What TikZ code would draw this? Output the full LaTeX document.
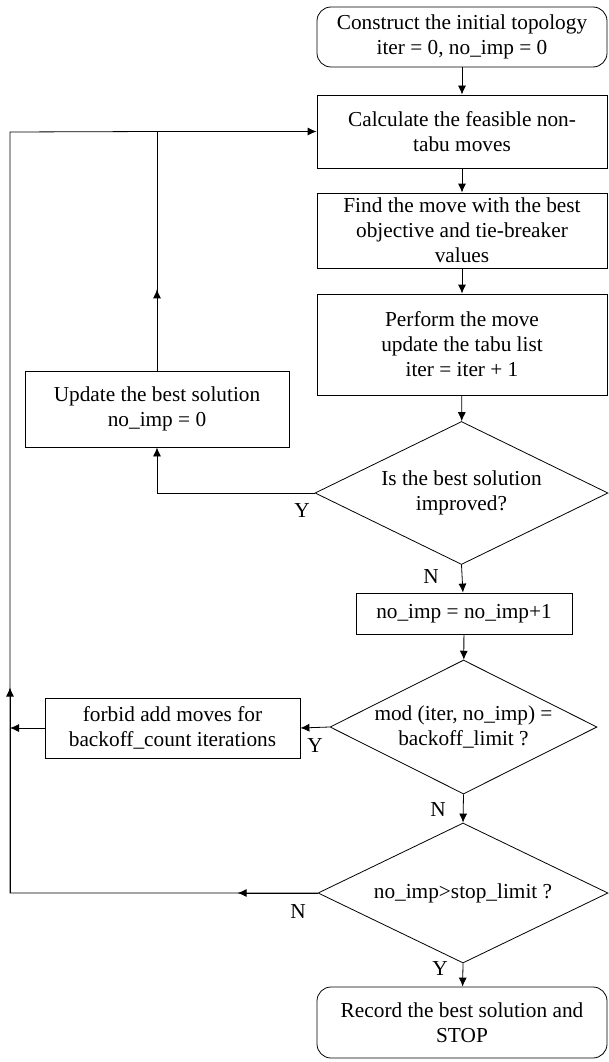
\documentclass[tikz,border=0pt]{standalone}
\usepackage{fontspec}
\setmainfont{Liberation Serif}
\usepackage{tikz}
\usetikzlibrary{shapes.geometric,arrows.meta,positioning,calc}

\begin{document}
\begin{tikzpicture}[x=1pt,y=-1pt,line width=0.8pt,
    every node/.style={font=\fontsize{21.3}{25}\selectfont},
    procbox/.style={draw,rectangle,align=center,inner sep=0pt,minimum width=290pt},
    termbox/.style={procbox,rounded corners=14pt},
    decbox/.style={draw,diamond,align=center,inner sep=0pt,aspect=2},
    flow/.style={-{Latex[length=9pt,width=8pt]}},
    lbl/.style={inner sep=0pt}]
    \useasboundingbox (0,0) rectangle (608,1062);

    % main column
    \node[termbox,minimum height=60pt] (init) at (462,37)
      {Construct the initial topology\\iter = 0, no\_imp = 0};
    \node[procbox,minimum height=73pt] (calc) at (462,131.5)
      {Calculate the feasible non-\\tabu moves};
    \node[procbox,minimum height=75pt] (find) at (462,230.5)
      {Find the move with the best\\objective and tie-breaker\\values};
    \node[procbox,minimum height=101pt] (perf) at (462,344.5)
      {Perform the move\\update the tabu list\\iter = iter + 1};
    \node[decbox,minimum width=293pt,minimum height=143pt] (improved) at (461.5,493)
      {Is the best solution\\improved?};
    \node[procbox,minimum width=216pt,minimum height=41pt] (noimp) at (464,613.5)
      {no\_imp = no\_imp+1};
    \node[decbox,minimum width=267pt,minimum height=134pt] (backoff) at (463.5,727)
      {mod (iter, no\_imp) =\\backoff\_limit ?};
    \node[decbox,minimum width=290pt,minimum height=140pt] (giveup) at (463,893)
      {no\_imp>stop\_limit ?};
    \node[termbox,minimum height=71pt] (record) at (462,1022.5)
      {Record the best solution and\\STOP};

    % side boxes
    \node[procbox,minimum width=264pt,minimum height=76pt] (update) at (157,409)
      {Update the best solution\\no\_imp = 0};
    \node[procbox,minimum width=255pt,minimum height=60pt] (forbid) at (172.5,728)
      {forbid add moves for\\backoff\_count iterations};

    % loop points
    \coordinate (loopjoin) at (update.north |- calc.west);
    \coordinate (loopcorner) at (10,132);
    \coordinate (loopbottom) at (loopcorner |- giveup.west);
    \coordinate (forbidjoin) at (forbid.west -| loopcorner);

    % connectors
    \draw[flow] (init) -- (calc);
    \draw[flow] (calc) -- (find);
    \draw[flow] (find) -- (perf);
    \draw[flow] (perf) -- (improved);
    \draw[flow] (improved.west) -| (update.south);
    \draw[flow] (update.north) -- (loopjoin) -- (calc.west);
    \draw[flow] (update.north) -- ($(update.north)!0.34!(loopjoin)$);
    \draw[flow] (improved.south) -- (noimp);
    \draw[flow] (noimp) -- (backoff);
    \draw[flow] (backoff.west) -- (forbid.east);
    \draw[flow] (forbid.west) -- (forbidjoin);
    \draw[flow] (backoff.south) -- (giveup.north);
    \draw[flow] (giveup.south) -- (record);
    \draw (giveup.west) -- (loopbottom) -- (loopcorner) -- (loopjoin);
    \draw[flow] (giveup.west) -- ($(giveup.west)!0.26!(loopbottom)$);
    \draw[flow] (loopbottom) -- ($(loopbottom)!0.27!(loopcorner)$);

    % branch labels
    \node[lbl] (y1) at (302,511) {Y};
    \node[lbl] (n1) at (431,577) {N};
    \node[lbl] (y2) at (315,746) {Y};
    \node[lbl] (n2) at (438,810) {N};
    \node[lbl] (n3) at (298,912) {N};
    \node[lbl] (y3) at (440,969) {Y};
\end{tikzpicture}
\end{document}
